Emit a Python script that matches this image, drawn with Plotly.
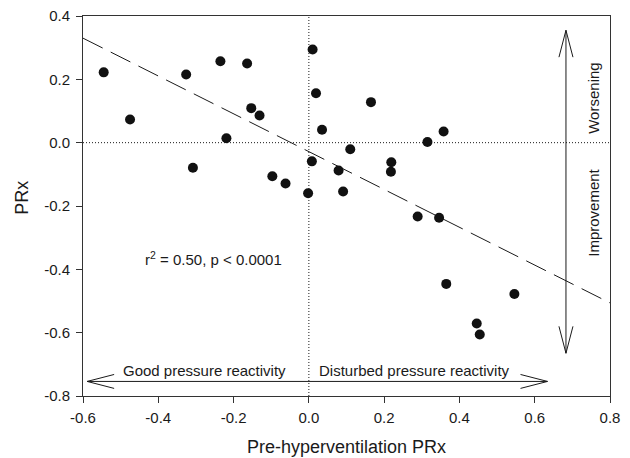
import plotly.graph_objects as go

# pre-hyperventilation PRx vs PRx change, one point per patient
pre_prx = [-0.545, -0.475, -0.326, -0.308, -0.235, -0.219, -0.164, -0.153, -0.131, -0.097,
           -0.062, -0.002, 0.008, 0.010, 0.019, 0.035, 0.079, 0.091, 0.110, 0.165,
           0.218, 0.219, 0.289, 0.315, 0.346, 0.358, 0.365, 0.446, 0.454, 0.546]
prx = [0.222, 0.073, 0.215, -0.079, 0.257, 0.014, 0.250, 0.109, 0.086, -0.106,
       -0.129, -0.160, -0.059, 0.294, 0.156, 0.041, -0.088, -0.154, -0.021, 0.128,
       -0.092, -0.062, -0.233, 0.002, -0.237, 0.035, -0.446, -0.571, -0.606, -0.478]

# regression line end points
fit_x = [-0.6, 0.8]
fit_y = [0.330, -0.506]

x_ticks = [-0.6, -0.4, -0.2, 0.0, 0.2, 0.4, 0.6, 0.8]
x_labels = ["-0.6", "-0.4", "-0.2", "0.0", "0.2", "0.4", "0.6", "0.8"]
y_ticks = [0.4, 0.2, 0.0, -0.2, -0.4, -0.6, -0.8]
y_labels = ["0.4", "0.2", "0.0", "-0.2", "-0.4", "-0.6", "-0.8"]

# arrows (data coordinates)
h_arrow_y = -0.754
h_arrow_x = [-0.589, 0.634]
v_arrow_x = 0.683
v_arrow_y = [-0.665, 0.355]

FONT = "Liberation Sans, Arial, sans-serif"
INK = "#1a1a1a"

fig = go.Figure()

fig.add_trace(go.Scatter(x=fit_x, y=fit_y, mode="lines",
                         line=dict(color=INK, width=1, dash="22px,9px"),
                         showlegend=False, hoverinfo="skip"))
fig.add_trace(go.Scatter(x=pre_prx, y=prx, mode="markers",
                         marker=dict(color="#111111", size=10),
                         showlegend=False))

# reference lines at zero
fig.add_shape(type="line", xref="x", yref="paper", x0=0, x1=0, y0=0, y1=1,
              line=dict(color=INK, width=1, dash="1px,2px"), layer="below")
fig.add_shape(type="line", xref="paper", yref="y", x0=0, x1=1, y0=0, y1=0,
              line=dict(color=INK, width=1, dash="1px,2px"), layer="below")

# horizontal double arrow with open heads
hx_len, hy_half = 0.0717, 0.022
fig.add_shape(type="line", x0=h_arrow_x[0], x1=h_arrow_x[1], y0=h_arrow_y, y1=h_arrow_y,
              line=dict(color=INK, width=1))
for tip, sgn in [(h_arrow_x[0], 1), (h_arrow_x[1], -1)]:
    bx = tip + sgn * hx_len
    fig.add_shape(type="path",
                  path=f"M {bx},{h_arrow_y + hy_half} L {tip},{h_arrow_y} L {bx},{h_arrow_y - hy_half}",
                  line=dict(color=INK, width=1))

# vertical double arrow with open heads
vy_len, vx_half = 0.085, 0.0186
fig.add_shape(type="line", x0=v_arrow_x, x1=v_arrow_x, y0=v_arrow_y[0], y1=v_arrow_y[1],
              line=dict(color=INK, width=1))
for tip, sgn in [(v_arrow_y[0], 1), (v_arrow_y[1], -1)]:
    by = tip + sgn * vy_len
    fig.add_shape(type="path",
                  path=f"M {v_arrow_x - vx_half},{by} L {v_arrow_x},{tip} L {v_arrow_x + vx_half},{by}",
                  line=dict(color=INK, width=1))

text_font = dict(family=FONT, size=15, color=INK)
fig.add_annotation(x=-0.5, y=-0.72, text="Good pressure reactivity", showarrow=False,
                   xanchor="left", yanchor="middle", font=text_font)
fig.add_annotation(x=0.021, y=-0.72, text="Disturbed pressure reactivity", showarrow=False,
                   xanchor="left", yanchor="middle", font=text_font)
fig.add_annotation(x=-0.44, y=-0.366, text="r<sup>2</sup> = 0.50, p < 0.0001", showarrow=False,
                   xanchor="left", yanchor="middle", font=text_font)
fig.add_annotation(x=0.756, y=0.14, text="Worsening", showarrow=False, textangle=-90,
                   xanchor="center", yanchor="middle", font=text_font)
fig.add_annotation(x=0.756, y=-0.22, text="Improvement", showarrow=False, textangle=-90,
                   xanchor="center", yanchor="middle", font=text_font)

# axis titles placed as annotations so their offsets can be set exactly
title_font = dict(family=FONT, size=18, color=INK)
fig.add_annotation(xref="paper", yref="paper", x=0.5, y=0, yshift=-51,
                   text="Pre-hyperventilation PRx", showarrow=False,
                   xanchor="center", yanchor="middle", font=title_font)
fig.add_annotation(xref="paper", yref="y", x=0, y=-0.174, xshift=-61,
                   text="PRx", showarrow=False, textangle=-90,
                   xanchor="center", yanchor="middle", font=title_font)

axis_common = dict(showline=True, linecolor="#333333", linewidth=1, mirror=True,
                   ticks="outside", ticklen=6, tickcolor="#333333", showgrid=False,
                   zeroline=False, automargin=False, ticklabeloverflow="allow",
                   tickfont=dict(family=FONT, size=15, color=INK))

fig.update_xaxes(range=[-0.6, 0.8], tickvals=x_ticks, ticktext=x_labels, ticklabelstandoff=2,
                 **axis_common)
fig.update_yaxes(range=[-0.8, 0.4], tickvals=y_ticks, ticktext=y_labels, ticklabelstandoff=3,
                 **axis_common)

# the page body adds an 8px margin, so the figure starts 8px in from the window edge
fig.update_layout(width=614, height=450, plot_bgcolor="white", paper_bgcolor="white",
                  margin=dict(l=75, r=12, t=8, b=62), showlegend=False)

fig.write_html("out.html")
